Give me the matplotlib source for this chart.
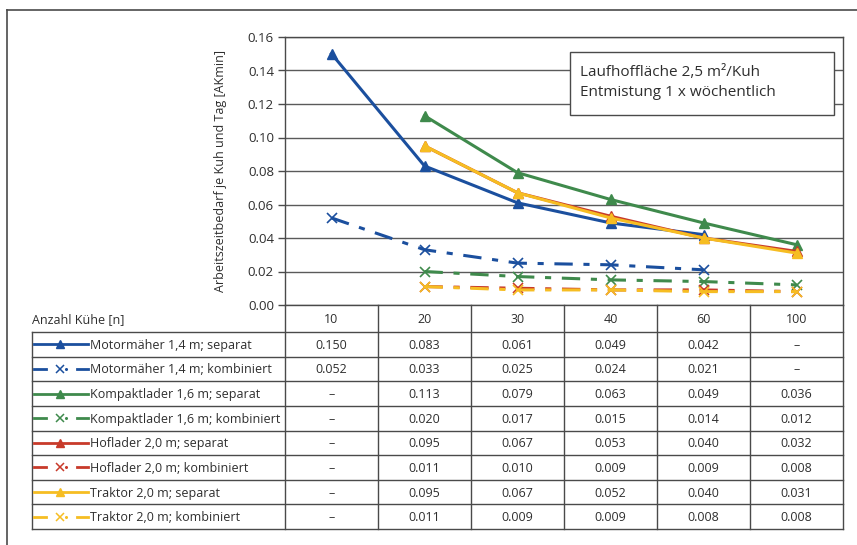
import matplotlib
matplotlib.use("Agg")
import matplotlib.pyplot as plt
from matplotlib.lines import Line2D
from matplotlib.patches import Rectangle
import numpy as np

plt.rcParams['font.family'] = ['Open Sans', 'DejaVu Sans']

categories = ["10", "20", "30", "40", "60", "100"]
series_names = [
    "Motormäher 1,4 m; separat",
    "Motormäher 1,4 m; kombiniert",
    "Kompaktlader 1,6 m; separat",
    "Kompaktlader 1,6 m; kombiniert",
    "Hoflader 2,0 m; separat",
    "Hoflader 2,0 m; kombiniert",
    "Traktor 2,0 m; separat",
    "Traktor 2,0 m; kombiniert",
]
motor_sep = [0.150, 0.083, 0.061, 0.049, 0.042, None]
motor_kom = [0.052, 0.033, 0.025, 0.024, 0.021, None]
kompakt_sep = [None, 0.113, 0.079, 0.063, 0.049, 0.036]
kompakt_kom = [None, 0.020, 0.017, 0.015, 0.014, 0.012]
hof_sep = [None, 0.095, 0.067, 0.053, 0.040, 0.032]
hof_kom = [None, 0.011, 0.010, 0.009, 0.009, 0.008]
trak_sep = [None, 0.095, 0.067, 0.052, 0.040, 0.031]
trak_kom = [None, 0.011, 0.009, 0.009, 0.008, 0.008]
series_values = [motor_sep, motor_kom, kompakt_sep, kompakt_kom,
                 hof_sep, hof_kom, trak_sep, trak_kom]

BLUE = "#1b4f9e"
GREEN = "#3f8a4c"
RED = "#c83a2a"
YELLOW = "#f6bd22"
colors = [BLUE, BLUE, GREEN, GREEN, RED, RED, YELLOW, YELLOW]
kinds = ["sep", "kom"] * 4

TXT = "#2e2e2e"
FS = 9.0

W, H = 857, 545
fig = plt.figure(figsize=(W / 100, H / 100), dpi=100)
fig.patch.set_facecolor("white")

def fx(x):
    return x / W

def fy(y):
    return 1 - y / H

# plot area in pixels
PL, PR, PT, PB = 285, 843, 37, 305
ax = fig.add_axes([fx(PL), fy(PB), (PR - PL) / W, (PB - PT) / H])
ax.set_xlim(0, len(categories))
ax.set_ylim(0, 0.16)
yt = np.arange(0, 0.161, 0.02)
ax.set_yticks(yt)
ax.set_yticklabels([f"{v:.2f}" for v in yt])
ax.set_xticks([])
ax.yaxis.grid(True, color="#5a5a5a", lw=1.0)
ax.set_axisbelow(True)
for s in ax.spines.values():
    s.set_color("#4a4a4a")
    s.set_linewidth(1.0)
ax.tick_params(axis="y", length=5, width=1.0, color="#4a4a4a", labelsize=9.5,
               labelcolor=TXT, pad=3)
ax.set_ylabel("Arbeitszeitbedarf je Kuh und Tag [AKmin]", fontsize=FS,
              color=TXT, labelpad=15)

DASH = (0, (6, 3.5, 2, 3.5))
for i in range(len(series_names)):
    vals = series_values[i]
    xs = [k + 0.5 for k, v in enumerate(vals) if v is not None]
    ys = [v for v in vals if v is not None]
    if kinds[i] == "sep":
        ax.plot(xs, ys, color=colors[i], lw=2.2, marker="^", ms=6.5,
                markeredgecolor=colors[i], zorder=3)
    else:
        ax.plot(xs, ys, color=colors[i], lw=2.2, linestyle=DASH,
                marker="x", ms=6.5, mew=1.2, zorder=3)

# overlay in pixel coordinates
ov = fig.add_axes([0, 0, 1, 1], facecolor="none")
ov.set_xlim(0, W)
ov.set_ylim(H, 0)
ov.axis("off")

# annotation box
ov.add_patch(Rectangle((570, 52), 264, 63, facecolor="white",
                       edgecolor="#4a4a4a", lw=1.0, zorder=5))
ov.text(580, 72, "Laufhoffläche 2,5 m²/Kuh", fontsize=11, color=TXT,
        va="center", ha="left", zorder=6)
ov.text(580, 93, "Entmistung 1 x wöchentlich", fontsize=11, color=TXT,
        va="center", ha="left", zorder=6)

# outer frame (left and top visible)
LC = "#4a4a4a"
ov.plot([7, 7], [10, H], color=LC, lw=1.2)
ov.plot([7, W], [10, 10], color=LC, lw=1.2)

# table
TL = 32
ncat = len(categories)
colw = (PR - PL) / ncat
HDR_B = 332
row_h = (529 - HDR_B) / len(series_names)
TB = HDR_B + row_h * len(series_names)

for k in range(ncat + 1):
    xk = PL + k * colw
    ov.plot([xk, xk], [PB, TB], color=LC, lw=1.0)
ov.plot([TL, TL], [HDR_B, TB], color=LC, lw=1.0)
for r in range(len(series_names) + 1):
    yr = HDR_B + r * row_h
    ov.plot([TL, PR], [yr, yr], color=LC, lw=1.0)

ov.text(TL, (PB + HDR_B) / 2 + 1, "Anzahl Kühe [n]", fontsize=FS,
        color=TXT, va="center", ha="left")
for k, c in enumerate(categories):
    ov.text(PL + (k + 0.5) * colw, (PB + HDR_B) / 2 + 1, c, fontsize=FS,
            color=TXT, va="center", ha="center")

for r, name in enumerate(series_names):
    yc = HDR_B + (r + 0.5) * row_h
    col = colors[r]
    if kinds[r] == "sep":
        ov.add_line(Line2D([34, 88], [yc, yc], color=col, lw=2.0))
        ov.add_line(Line2D([60], [yc], color=col, marker="^", ms=6, lw=0))
    else:
        ov.add_line(Line2D([34, 46], [yc, yc], color=col, lw=2.0))
        ov.add_line(Line2D([60], [yc], color=col, marker="x", ms=6,
                           mew=1.1, lw=0))
        ov.add_line(Line2D([66], [yc], color=col, marker="o", ms=1.2, lw=0))
        ov.add_line(Line2D([77, 88], [yc, yc], color=col, lw=2.0))
    ov.text(90, yc + 1, name, fontsize=FS, color=TXT, va="center", ha="left")
    for k, v in enumerate(series_values[r]):
        s = "–" if v is None else f"{v:.3f}"
        ov.text(PL + (k + 0.5) * colw, yc + 1, s, fontsize=FS,
                color=TXT, va="center", ha="center")

fig.savefig("out.png", dpi=100)
